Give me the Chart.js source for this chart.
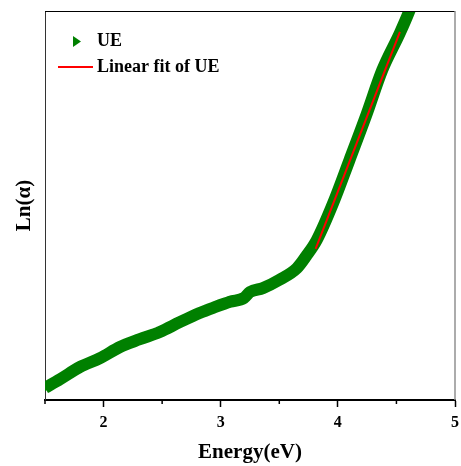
<!DOCTYPE html>
<html>
<head>
<meta charset="utf-8">
<script src="https://cdn.jsdelivr.net/npm/chart.js@4.4.1/dist/chart.umd.min.js"></script>
<style>
  html, body { margin: 0; padding: 0; background: #fff; }
  #wrap { position: relative; width: 461px; height: 466px; }
</style>
</head>
<body>
<div id="wrap"><canvas id="chart"></canvas></div>
<script>
// values
const energy = [1.50, 1.63, 1.80, 1.97, 2.14, 2.31, 2.48, 2.65, 2.82, 2.95, 3.08, 3.20, 3.25, 3.36, 3.50, 3.65, 3.73, 3.82, 3.96, 4.10, 4.24, 4.38, 4.53, 4.61, 4.66]
const lnAlpha = [10.25, 10.43, 10.68, 10.86, 11.09, 11.25, 11.40, 11.60, 11.79, 11.91, 12.02, 12.10, 12.22, 12.30, 12.47, 12.71, 12.96, 13.29, 14.05, 14.94, 15.84, 16.79, 17.55, 18.00, 18.33]
const fitEnergy = [3.81, 4.53]
const fitLnAlpha = [13.11, 17.57]
const minorTicks = [1.5, 2.5, 3.5, 4.5]

const GREEN = '#008000'
const RED = '#ff0000'
const FONT = '"Liberation Serif", "Times New Roman", serif'

const pairs = (xs, ys) => xs.map((x, i) => ({ x: x, y: ys[i] }))

// frame, minor ticks and the legend inside the plot
const extras = {
  id: 'extras',
  afterDraw(chart) {
    const ctx = chart.ctx
    const a = chart.chartArea
    const xs = chart.scales.x
    ctx.save()
    // top + right frame
    ctx.lineWidth = 1
    ctx.strokeStyle = '#000'
    ctx.beginPath()
    ctx.moveTo(a.left, a.top + 0.5)
    ctx.lineTo(a.right, a.top + 0.5)
    ctx.stroke()
    ctx.lineWidth = 1.5
    ctx.strokeStyle = '#909090'
    ctx.beginPath()
    ctx.moveTo(a.right, a.top)
    ctx.lineTo(a.right, a.bottom)
    ctx.stroke()
    // minor ticks
    ctx.strokeStyle = '#000'
    ctx.lineWidth = 1.5
    minorTicks.forEach(v => {
      const px = xs.getPixelForValue(v)
      ctx.beginPath()
      ctx.moveTo(px, a.bottom)
      ctx.lineTo(px, a.bottom + 4)
      ctx.stroke()
    })
    // legend
    const ds = chart.data.datasets
    ctx.fillStyle = GREEN
    ctx.beginPath()
    ctx.moveTo(73, 36)
    ctx.lineTo(73, 47)
    ctx.lineTo(81, 41.5)
    ctx.closePath()
    ctx.fill()
    ctx.strokeStyle = RED
    ctx.lineWidth = 2
    ctx.beginPath()
    ctx.moveTo(58, 67)
    ctx.lineTo(93, 67)
    ctx.stroke()
    ctx.fillStyle = '#000'
    ctx.font = 'bold 18px ' + FONT
    ctx.textBaseline = 'middle'
    ctx.textAlign = 'left'
    ctx.fillText(ds[1].label, 97, 41)
    ctx.fillText(ds[0].label, 97, 67)
    ctx.restore()
  }
}

new Chart(document.getElementById('chart'), {
  type: 'line',
  data: {
    datasets: [
      {
        label: 'Linear fit of UE',
        data: pairs(fitEnergy, fitLnAlpha),
        borderColor: RED,
        borderWidth: 2,
        pointRadius: 0,
        order: 0,
        clip: 0
      },
      {
        label: 'UE',
        data: pairs(energy, lnAlpha),
        borderColor: GREEN,
        backgroundColor: GREEN,
        borderWidth: 12,
        cubicInterpolationMode: 'monotone',
        pointStyle: 'triangle',
        rotation: 90,
        pointRadius: 6,
        pointBorderWidth: 0,
        pointBackgroundColor: GREEN,
        order: 1,
        clip: 0
      }
    ]
  },
  options: {
    responsive: true,
    maintainAspectRatio: false,
    animation: false,
    layout: { padding: { top: 11, right: 5, left: 0, bottom: 0 } },
    plugins: {
      legend: { display: false },
      tooltip: { enabled: false }
    },
    scales: {
      x: {
        type: 'linear',
        min: 1.5,
        max: 5,
        afterFit: s => {
          s.height = 66
          s.paddingLeft = 0
          s.paddingRight = 0
        },
        ticks: {
          stepSize: 0.5,
          autoSkip: false,
          maxRotation: 0,
          padding: 6,
          color: '#000',
          font: { family: FONT, size: 16, weight: 'bold' },
          callback: v => Number.isInteger(v) ? v : ''
        },
        grid: {
          drawOnChartArea: false,
          tickLength: 7,
          tickWidth: 1.5,
          tickColor: c => Number.isInteger(c.tick.value) ? '#000' : 'rgba(0,0,0,0)'
        },
        border: { color: '#000', width: 2 },
        title: {
          display: true,
          text: 'Energy(eV)',
          color: '#000',
          font: { family: FONT, size: 21, weight: 'bold' },
          padding: { top: 0, bottom: 1 }
        }
      },
      y: {
        min: 10,
        max: 18,
        afterFit: s => { s.width = 45 },
        ticks: { display: false },
        grid: { display: false, drawTicks: false },
        border: { color: '#333', width: 1 },
        title: {
          display: true,
          text: 'Ln(α)',
          color: '#000',
          font: { family: FONT, size: 21, weight: 'bold' },
          padding: { top: 12, bottom: 0 }
        }
      }
    }
  },
  plugins: [extras]
})
</script>
</body>
</html>
